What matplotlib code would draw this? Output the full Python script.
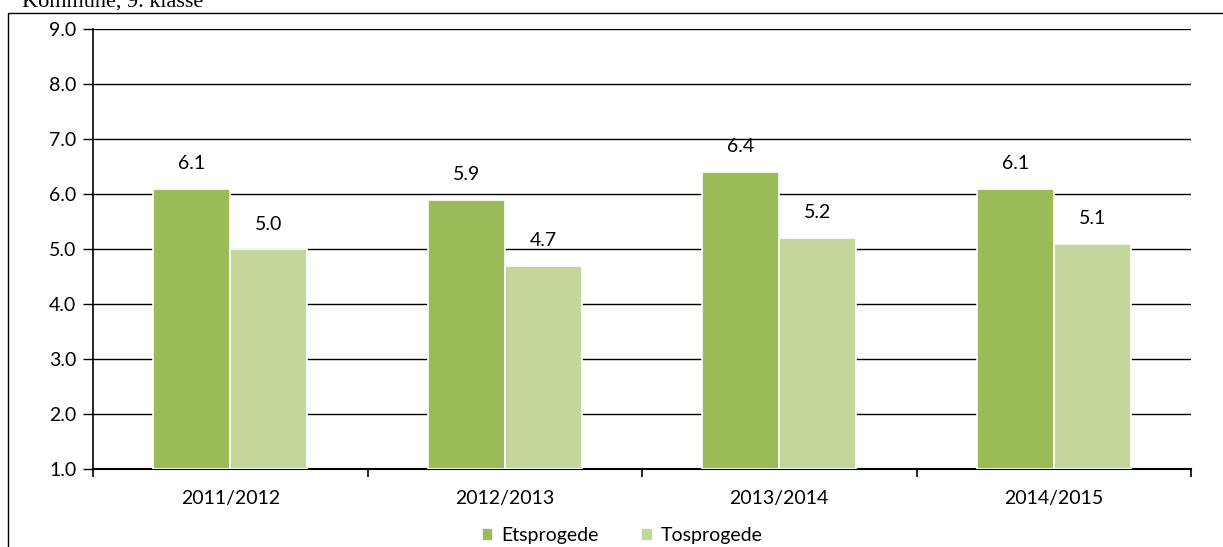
import matplotlib.pyplot as plt
import numpy as np
from matplotlib.patches import Rectangle

# data
years = ['2011/2012', '2012/2013', '2013/2014', '2014/2015']
etsprogede = [6.1, 5.9, 6.4, 6.1]
tosprogede = [5.0, 4.7, 5.2, 5.1]
yticks = [1.0, 2.0, 3.0, 4.0, 5.0, 6.0, 7.0, 8.0, 9.0]

plt.rcParams['font.family'] = ['Lato', 'DejaVu Sans']

fig = plt.figure(figsize=(12.23, 5.47), dpi=100)
W, H = 1223, 547
ax = fig.add_axes([93 / W, 1 - 469 / H, (1191 - 93) / W, (469 - 29) / H])

# outer frame (chart area border)
fig.patches.append(Rectangle((8 / W, -0.05), 1.2, 1 - 13 / H + 0.05, transform=fig.transFigure,
                             fill=False, edgecolor='black', linewidth=1.0))
fig.text(0.018, 1 - 2 / H, 'Kommune, 9. klasse', fontsize=16, va='center', ha='left',
         family=['Liberation Serif', 'DejaVu Serif'])

x = np.arange(len(years))
w = 0.28
ax.bar(x - w / 2, np.array(etsprogede) - 1, w, bottom=1, color='#9BBB59',
       edgecolor='white', linewidth=1.2, label='Etsprogede', zorder=3)
ax.bar(x + w / 2, np.array(tosprogede) - 1, w, bottom=1, color='#C3D69B',
       edgecolor='white', linewidth=1.2, label='Tosprogede', zorder=3)

for i in range(len(years)):
    ax.text(x[i] - w / 2, etsprogede[i] + 0.3, f'{etsprogede[i]:.1f}', ha='center',
            va='bottom', fontsize=14)
    ax.text(x[i] + w / 2, tosprogede[i] + 0.3, f'{tosprogede[i]:.1f}', ha='center',
            va='bottom', fontsize=14)

ax.set_ylim(1, 9)
ax.set_xlim(-0.5, len(years) - 0.5)
ax.set_yticks(yticks)
ax.set_yticklabels([f'{v:.1f}' for v in yticks], fontsize=14)
ax.yaxis.grid(True, color='black', linewidth=1.0, zorder=0)
ax.set_axisbelow(True)
ax.set_xticks(x)
ax.set_xticklabels(years, fontsize=14)
ax.tick_params(axis='x', length=0, pad=15)
ax.set_xticks(np.arange(len(years) + 1) - 0.5, minor=True)
ax.tick_params(axis='x', which='minor', length=6, width=1.2, direction='out')
ax.tick_params(axis='y', length=7, width=1.0, direction='out', pad=5)
for s in ['top', 'right']:
    ax.spines[s].set_visible(False)
ax.spines['left'].set_linewidth(1.2)
ax.spines['bottom'].set_linewidth(1.5)

ax.legend(loc='upper center', bbox_to_anchor=(0.482, -0.093), ncol=2, frameon=False,
          fontsize=14, handlelength=0.6, handleheight=0.6, handletextpad=0.4,
          columnspacing=2.2)

fig.savefig('out.png', dpi=100)
